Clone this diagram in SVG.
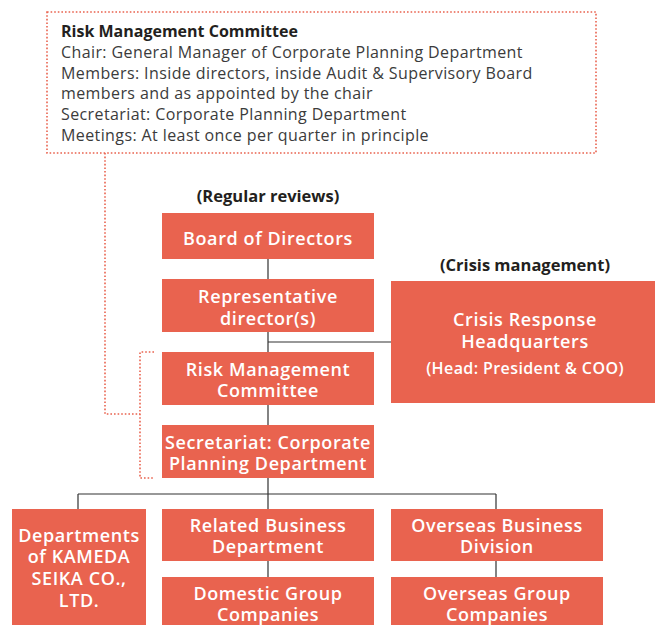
<svg xmlns="http://www.w3.org/2000/svg" width="655" height="625" viewBox="0 0 655 625">
<style>
.box{fill:#E9634F}
.bt{font-family:"Open Sans","Liberation Sans",sans-serif;font-weight:600;font-size:18px;letter-spacing:0.6px;fill:#fff;text-anchor:middle}
.st{font-size:16px;letter-spacing:0.4px}
.hd{font-family:"Open Sans","Liberation Sans",sans-serif;font-weight:bold;font-size:16.5px;fill:#231f20;text-anchor:middle}
.info{font-family:"Open Sans","Liberation Sans",sans-serif;font-size:16px;letter-spacing:0.4px;fill:#3b3b3b}
.ttl{font-weight:bold;letter-spacing:0;fill:#231f20}
.dot{fill:none;stroke:#E9634F;stroke-width:1.6;stroke-dasharray:1.6 2}
.ln{fill:none;stroke:#333;stroke-width:1.2}
</style>
<g id="info-box">
<rect class="dot" x="47" y="12" width="549" height="141"/>
<text class="info ttl" x="61" y="37">Risk Management Committee</text>
<text class="info" x="61" y="58">Chair: General Manager of Corporate Planning Department</text>
<text class="info" x="61" y="79">Members: Inside directors, inside Audit &amp; Supervisory Board</text>
<text class="info" x="61" y="99">members and as appointed by the chair</text>
<text class="info" x="61" y="120">Secretariat: Corporate Planning Department</text>
<text class="info" x="61" y="141">Meetings: At least once per quarter in principle</text>
</g>
<g id="connectors">
<path class="dot" d="M105 153 V414 H140"/>
<path class="dot" d="M154 352 H140 V478 H154"/>
<path class="ln" d="M268 259 V279 M268 332 V352 M268 342 H391 M268 405 V425 M268 478 V494 M78 494 H496 M78 494 V509 M268 494 V509 M496 494 V509 M268 561 V577 M496 561 V577"/>
</g>
<g id="label-regular"><text class="hd" x="268" y="202">(Regular reviews)</text></g>
<g id="label-crisis"><text class="hd" x="525" y="271">(Crisis management)</text></g>
<g id="board">
<rect class="box" x="162" y="213" width="212" height="46"/>
<text class="bt" x="268" y="245">Board of Directors</text>
</g>
<g id="representative">
<rect class="box" x="162" y="279" width="212" height="53"/>
<text class="bt" x="268" y="303">Representative</text>
<text class="bt" x="268" y="325">director(s)</text>
</g>
<g id="risk-committee">
<rect class="box" x="162" y="352" width="212" height="53"/>
<text class="bt" x="268" y="376">Risk Management</text>
<text class="bt" x="268" y="397">Committee</text>
</g>
<g id="secretariat">
<rect class="box" x="162" y="425" width="212" height="53"/>
<text class="bt" x="268" y="449">Secretariat: Corporate</text>
<text class="bt" x="268" y="470">Planning Department</text>
</g>
<g id="crisis-hq">
<rect class="box" x="391" y="281" width="264" height="122"/>
<text class="bt" x="525" y="326">Crisis Response</text>
<text class="bt" x="525" y="348">Headquarters</text>
<text class="bt st" x="525" y="374">(Head: President &amp; COO)</text>
</g>
<g id="departments">
<rect class="box" x="12" y="509" width="134" height="116"/>
<text class="bt" x="79" y="542">Departments</text>
<text class="bt" x="79" y="563">of KAMEDA</text>
<text class="bt" x="79" y="585">SEIKA CO.,</text>
<text class="bt" x="79" y="607">LTD.</text>
</g>
<g id="related-business">
<rect class="box" x="162" y="509" width="212" height="52"/>
<text class="bt" x="268" y="532">Related Business</text>
<text class="bt" x="268" y="553">Department</text>
</g>
<g id="domestic-group">
<rect class="box" x="162" y="577" width="212" height="48"/>
<text class="bt" x="268" y="600">Domestic Group</text>
<text class="bt" x="268" y="621">Companies</text>
</g>
<g id="overseas-business">
<rect class="box" x="391" y="509" width="212" height="52"/>
<text class="bt" x="497" y="532">Overseas Business</text>
<text class="bt" x="497" y="553">Division</text>
</g>
<g id="overseas-group">
<rect class="box" x="391" y="577" width="212" height="48"/>
<text class="bt" x="497" y="600">Overseas Group</text>
<text class="bt" x="497" y="621">Companies</text>
</g>
</svg>
